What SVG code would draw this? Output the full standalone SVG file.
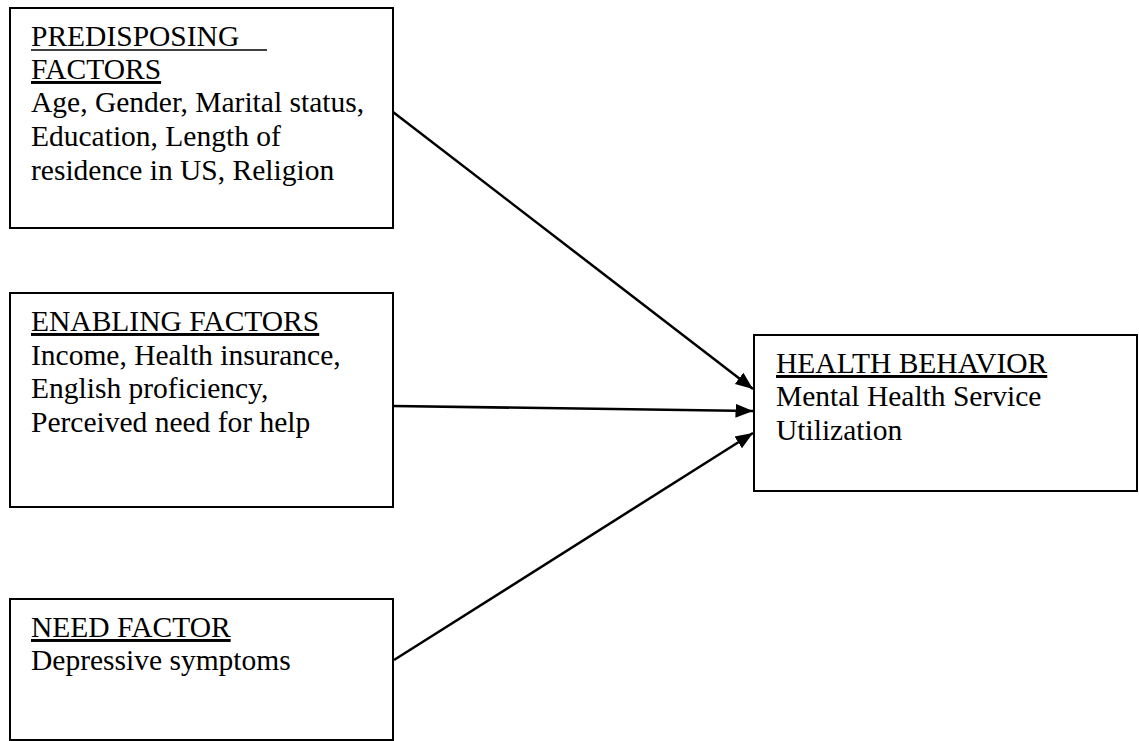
<svg xmlns="http://www.w3.org/2000/svg" width="1139" height="741" viewBox="0 0 1139 741">
<style>
.box{fill:#fff;stroke:#000;stroke-width:2}
.t{font-family:"Liberation Serif","Times New Roman",serif;font-size:29.5px;fill:#000}
.u{text-decoration:underline}
.c{stroke:#000;stroke-width:2.5;fill:none;marker-end:url(#ah)}
</style>
<defs>
<marker id="ah" viewBox="0 0 10 10" refX="10" refY="5" markerWidth="7" markerHeight="7" orient="auto" markerUnits="strokeWidth">
<path d="M0,1 L10,5 L0,9 z" fill="#000"/>
</marker>
</defs>
<rect width="1139" height="741" fill="#fff"/>
<g id="predisposing">
<rect class="box" x="10" y="8" width="383" height="220"/>
<text class="t" x="31" y="46">PREDISPOSING</text>
<line x1="31" y1="50" x2="267" y2="50" stroke="#000" stroke-width="1.4"/>
<text class="t u" x="31" y="79">FACTORS</text>
<text class="t" x="31" y="112">Age, Gender, Marital status,</text>
<text class="t" x="31" y="146">Education, Length of</text>
<text class="t" x="31" y="180">residence in US, Religion</text>
</g>
<g id="enabling">
<rect class="box" x="10" y="293" width="383" height="214"/>
<text class="t u" x="31" y="331">ENABLING FACTORS</text>
<text class="t" x="31" y="365">Income, Health insurance,</text>
<text class="t" x="31" y="398">English proficiency,</text>
<text class="t" x="31" y="432">Perceived need for help</text>
</g>
<g id="need">
<rect class="box" x="10" y="599" width="383" height="141"/>
<text class="t u" x="31" y="637">NEED FACTOR</text>
<text class="t" x="31" y="670">Depressive symptoms</text>
</g>
<g id="behavior">
<rect class="box" x="754" y="335" width="383" height="156"/>
<text class="t u" x="776" y="373">HEALTH BEHAVIOR</text>
<text class="t" x="776" y="406">Mental Health Service</text>
<text class="t" x="776" y="440">Utilization</text>
</g>
<g id="connectors">
<line class="c" x1="393" y1="112" x2="753" y2="389"/>
<line class="c" x1="393" y1="406" x2="753" y2="411"/>
<line class="c" x1="394" y1="660" x2="753" y2="433"/>
</g>
</svg>
